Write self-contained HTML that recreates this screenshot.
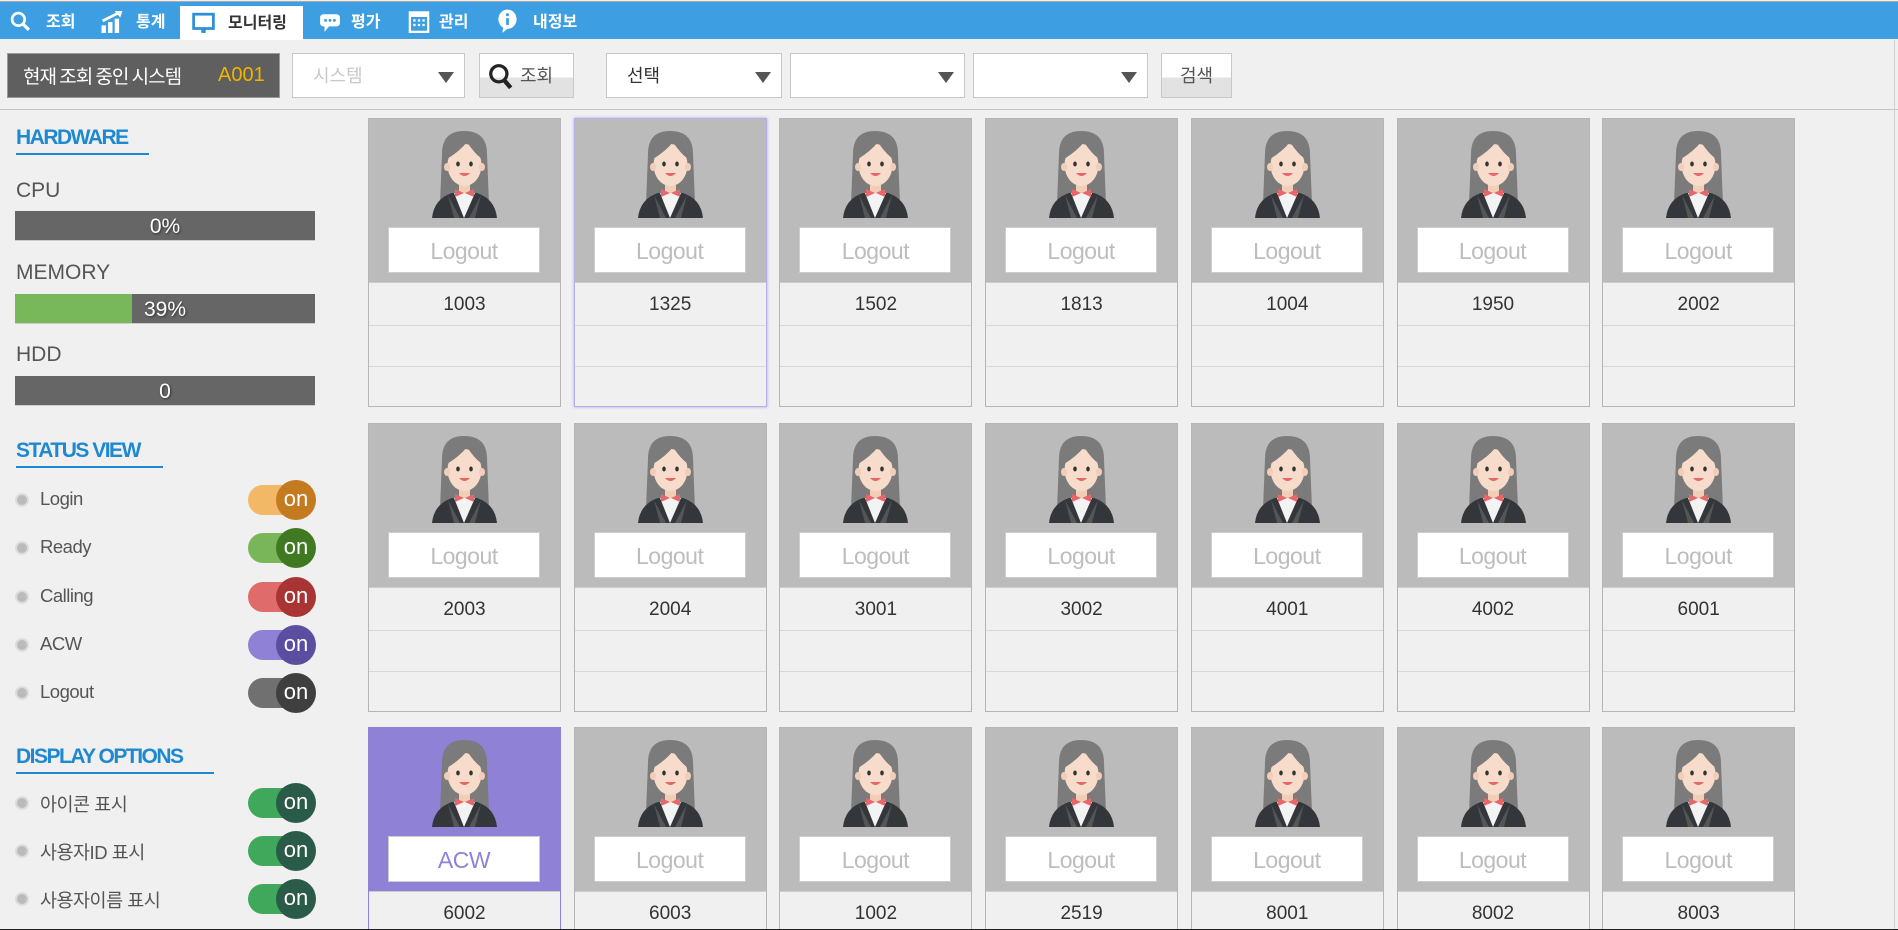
<!DOCTYPE html>
<html style="width:1898px;height:930px;overflow:hidden"><head><meta charset="utf-8"><style>
*{box-sizing:border-box;margin:0;padding:0}
body{width:1898px;height:930px;overflow:hidden;background:#f0f0f0;font-family:"Liberation Sans","Noto Sans CJK KR",sans-serif;position:relative;color:#555}
.abs{position:absolute}
#nav{left:0;top:1px;width:1898px;height:38px;background:#3d9fe2;border-top:1px solid #aaa}
.nv{position:absolute;top:0;height:38px;line-height:37px;color:#fff;font-weight:bold;font-size:16px;white-space:nowrap;font-family:"Noto Sans CJK KR",sans-serif}
.nv.act{background:#fff;color:#333;top:4px;height:34px;line-height:31px}
.nv svg{position:absolute;top:9px}
.sel{position:absolute;top:53px;height:45px;background:#fff;border:1px solid #c8c8c8;font-size:18px;color:#333;font-family:"Noto Sans CJK KR",sans-serif;line-height:43px;padding-left:20px;white-space:nowrap}
.sel:after{content:"";position:absolute;right:10px;top:18px;border-left:8px solid transparent;border-right:8px solid transparent;border-top:11px solid #555}
.btn{position:absolute;top:53px;height:45px;border:1px solid #c8c8c8;background:linear-gradient(#fff 0,#fff 55%,#e2e2e2 55%);font-size:18px;color:#555;font-family:"Noto Sans CJK KR",sans-serif;line-height:42px;white-space:nowrap}
.h{position:absolute;left:16px;color:#1e88d0;font-weight:bold;font-size:21px;letter-spacing:-1.5px;border-bottom:2px solid #1e88d0;padding-bottom:3px}
.lbl{position:absolute;left:16px;font-size:21px;color:#555}
.bar{position:absolute;left:15px;width:300px;height:30px;background:#666;color:#fff;font-size:21px;text-align:center;line-height:31px;text-shadow:1px 1px 2px #333;border-bottom:1px solid #ccc}
.row{position:absolute;left:14px;width:302px;height:40px}
.row .dot{position:absolute;left:1px;top:13px;width:14px;height:14px;border-radius:50%;background:#bbb;border:2px solid #ddd}
.row .t{position:absolute;left:26px;top:8px;font-size:18.5px;color:#555;letter-spacing:-0.5px;white-space:nowrap}
.tg{position:absolute;left:234px;top:5px;width:55px;height:30px;border-radius:15px}
.kn{position:absolute;left:262px;top:0;width:40px;height:40px;border-radius:50%;color:#fff;font-size:22px;text-align:center;line-height:38px}
.card{position:absolute;width:193px;height:289px;border:1px solid #b5b5b5;background:#f0f0f0;overflow:hidden}
.card .top{position:absolute;left:0;top:0;width:191px;height:163px;background:#bbb}
.card .st{position:absolute;left:19px;top:108px;width:152px;height:46px;background:#fff;border:1px solid #ccc;text-align:center;font-size:23px;line-height:46px;color:#bdbdbd;letter-spacing:-0.5px}
.card .id{position:absolute;left:0;top:163px;width:191px;height:43px;border-top:1px solid #ccc;text-align:center;line-height:44px;font-size:19px;color:#333}
.card .r2{position:absolute;left:0;top:206px;width:191px;height:41px;border-top:1px solid #d8d8d8}
.card .r3{position:absolute;left:0;top:247px;width:191px;height:40px;border-top:1px solid #d8d8d8}
.card svg{position:absolute;left:63px;top:10px}
</style></head><body>
<div id="nav" class="abs">
 <div class="nv" style="left:10px;width:75px"><svg width="21" height="21" viewBox="0 0 20 20"><circle cx="8" cy="8" r="6" fill="none" stroke="#fff" stroke-width="2.5"/><line x1="12" y1="12" x2="18" y2="18" stroke="#fff" stroke-width="3"/></svg><span style="position:absolute;left:36px">조회</span></div>
 <div class="nv" style="left:99px;width:75px"><svg width="27" height="22" viewBox="0 0 22 20"><rect x="1" y="13" width="4" height="7" fill="#fff"/><rect x="7" y="10" width="4" height="10" fill="#fff"/><rect x="13" y="7" width="4" height="13" fill="#fff"/><path d="M2 9 L16 2" stroke="#fff" stroke-width="2.5"/><path d="M13 0 L20 0 L18 6z" fill="#fff"/></svg><span style="position:absolute;left:37px">통계</span></div>
 <div class="nv act" style="left:180px;width:123px"><svg width="23" height="22" viewBox="0 0 20 20" style="left:12px;top:6px"><rect x="1" y="2" width="18" height="13" fill="none" stroke="#2f8fd6" stroke-width="2.5"/><rect x="8" y="15" width="4" height="4" fill="#2f8fd6"/></svg><span style="position:absolute;left:48px">모니터링</span></div>
 <div class="nv" style="left:317px;width:75px"><svg width="26" height="22" viewBox="0 0 20 20"><rect x="1" y="3" width="18" height="11" rx="3" fill="#fff"/><path d="M5 13 L5 19 L10 13z" fill="#fff"/><circle cx="6" cy="8.5" r="1.3" fill="#3d9fe2"/><circle cx="10" cy="8.5" r="1.3" fill="#3d9fe2"/><circle cx="14" cy="8.5" r="1.3" fill="#3d9fe2"/></svg><span style="position:absolute;left:34px">평가</span></div>
 <div class="nv" style="left:407px;width:75px"><svg width="24" height="24" viewBox="0 0 18 21" style="top:7px"><rect x="1" y="3" width="16" height="17" fill="none" stroke="#fff" stroke-width="2"/><rect x="1" y="3" width="16" height="4" fill="#fff"/><g fill="#fff"><rect x="4" y="9" width="2" height="2"/><rect x="8" y="9" width="2" height="2"/><rect x="12" y="9" width="2" height="2"/><rect x="4" y="13" width="2" height="2"/><rect x="8" y="13" width="2" height="2"/><rect x="12" y="13" width="2" height="2"/></g></svg><span style="position:absolute;left:32px">관리</span></div>
 <div class="nv" style="left:497px;width:95px"><svg width="21" height="25" viewBox="0 0 17 22" style="top:7px"><ellipse cx="8.5" cy="9" rx="8" ry="8.5" fill="#fff"/><path d="M5 15 L4 21 L10 16z" fill="#fff"/><rect x="7.3" y="8" width="2.4" height="6" fill="#3d9fe2"/><circle cx="8.5" cy="5" r="1.4" fill="#3d9fe2"/></svg><span style="position:absolute;left:36px">내정보</span></div>
</div>

<div class="abs" style="left:7px;top:53px;width:273px;height:45px;background:#5f5f5f;border:1px solid #999;color:#fff;font-size:19px;line-height:43px;padding-left:15px;font-family:'Noto Sans CJK KR',sans-serif;white-space:nowrap;letter-spacing:-1px">현재 조회 중인 시스템<span style="color:#f0b400;position:absolute;left:210px;font-size:20px;font-family:'Liberation Sans',sans-serif;letter-spacing:0">A001</span></div>
<div class="sel" style="left:292px;width:173px;color:#c8c8c8">시스템</div>
<div class="btn" style="left:479px;width:95px"><svg width="26" height="28" viewBox="0 0 24 26" style="position:absolute;left:8px;top:9px"><circle cx="10" cy="10" r="7.5" fill="none" stroke="#222" stroke-width="3"/><line x1="15" y1="16" x2="21" y2="23" stroke="#222" stroke-width="4"/></svg><span style="position:absolute;left:40px">조회</span></div>
<div class="sel" style="left:606px;width:176px">선택</div>
<div class="sel" style="left:790px;width:175px"></div>
<div class="sel" style="left:973px;width:175px"></div>
<div class="btn" style="left:1161px;width:71px;text-align:center">검색</div>
<div class="abs" style="left:0;top:109px;width:1898px;height:1px;background:#c4c4c4"></div>
<div class="abs" style="left:1894px;top:40px;width:1px;height:889px;background:#d0d0d0"></div>

<div class="h" style="top:126px;width:133px">HARDWARE</div>
<div class="lbl" style="top:179px">CPU</div>
<div class="bar" style="top:211px">0%</div>
<div class="lbl" style="top:261px">MEMORY</div>
<div class="bar" style="top:294px;background:linear-gradient(90deg,#79b85a 0,#79b85a 39%,#666 39%)">39%</div>
<div class="lbl" style="top:343px">HDD</div>
<div class="bar" style="top:376px">0</div>

<div class="h" style="top:439px;width:147px">STATUS VIEW</div>
<div id="statusRows"></div>
<div class="h" style="top:745px;width:198px">DISPLAY OPTIONS</div>
<div id="cards"></div>
<div class="abs" style="left:0;top:929px;width:1898px;height:1px;background:#222"></div>

<script>
const statusLabels=["Login","Ready","Calling","ACW","Logout","아이콘 표시","사용자ID 표시","사용자이름 표시"];
const rowCenters=[500,548,597,645,693,803,851,899];
const trackColors=["#f2b866","#79b65a","#e06b6b","#8f82d6","#707070","#40a85a","#40a85a","#40a85a"];
const knobColors=["#c47a1e","#3f7a22","#a83434","#5b4ea0","#3f3f3f","#2a5a48","#2a5a48","#2a5a48"];
const sr=document.getElementById('statusRows');
statusLabels.forEach((l,i)=>{
 const r=document.createElement('div');r.className='row';r.style.top=(rowCenters[i]-20)+'px';
 
 
 r.innerHTML='<div class="dot"></div><div class="t">'+l+'</div><div class="tg" style="background:'+trackColors[i]+'"></div><div class="kn" style="background:'+knobColors[i]+'">on</div>';
 const k=r.querySelector('.kn');
 
 
 sr.appendChild(r);
});

const agentIds=[["1003","1325","1502","1813","1004","1950","2002"],["2003","2004","3001","3002","4001","4002","6001"],["6002","6003","1002","2519","8001","8002","8003"]];
const agentStates=[["Logout","Logout","Logout","Logout","Logout","Logout","Logout"],["Logout","Logout","Logout","Logout","Logout","Logout","Logout"],["ACW","Logout","Logout","Logout","Logout","Logout","Logout"]];
const avatar='<svg width="65" height="89" viewBox="0 0 65 89"><path d="M10 25 Q10 2 32 2 Q55 2 55 25 L57 75 L8 75z" fill="#7b7b7b"/><path d="M0 89 Q2 70 20 64 L45 64 Q63 70 65 89z" fill="#33363b"/><path d="M22 64 L32 89 L43 64z" fill="#f3f3f3"/><path d="M16 66 L28 89 L22 89z M49 66 L37 89 L43 89z" fill="#555"/><rect x="27" y="53" width="11" height="11" fill="#f2cdb8"/><path d="M23 60 L32 64 L23 68z M42 60 L33 64 L42 68z" fill="#e6676a"/><ellipse cx="32.5" cy="36" rx="17" ry="21" fill="#f8dccb"/><ellipse cx="15" cy="38" rx="3" ry="4" fill="#f2cdb8"/><ellipse cx="50" cy="38" rx="3" ry="4" fill="#f2cdb8"/><path d="M15 30 Q19 11 35 13 Q28 22 15 30z M50 30 Q47 15 35 13 Q42 24 50 30z" fill="#7b7b7b"/><ellipse cx="26" cy="35" rx="1.8" ry="2.5" fill="#333"/><ellipse cx="39" cy="35" rx="1.8" ry="2.5" fill="#333"/><path d="M27 44 Q32.5 50 38 44z" fill="#e6676a"/></svg>';
const cardsEl=document.getElementById('cards');
const colX=(c)=>368+c*205.7;
const rowY=(r)=>118+r*304.5;
agentIds.forEach((row,ri)=>row.forEach((id,ci)=>{
 const st=agentStates[ri][ci];
 const c=document.createElement('div');c.className='card';
 const top=rowY(ri);
 const h=Math.min(289,Math.floor(929-top));
 const clipped=h<289;
 c.style.left=colX(ci)+'px';c.style.top=top+'px';
 c.style.height=h+'px';
 if(clipped)c.style.borderBottom='none';
 
 
 const acw=st==='ACW';
 if(acw)c.style.borderColor='#8f82d6';
 if(ri===0&&ci===1){c.style.borderColor='#b4b0e6';c.style.boxShadow='0 0 3px #a9a4ef';}
 let html='<div class="top" style="background:'+(acw?'#8f82d6':'#bbb')+'">'+avatar+'<div class="st" style="'+(acw?'color:#8f82d6':'')+'">'+st+'</div></div>';
 if(clipped){html+='<div class="id" style="height:'+(h-164)+'px">'+id+'</div>';}
 else{html+='<div class="id">'+id+'</div><div class="r2"></div><div class="r3"></div>';}
 c.innerHTML=html;
 cardsEl.appendChild(c);
}));
</script>
</body></html>
